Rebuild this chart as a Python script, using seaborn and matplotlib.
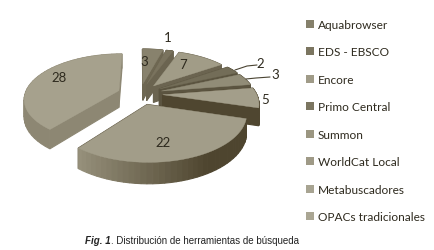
import numpy as np
import matplotlib
matplotlib.use("Agg")
import matplotlib.pyplot as plt
from matplotlib.colors import to_rgb
from matplotlib.patches import Patch
import seaborn as sns

categories = ["Aquabrowser", "EDS - EBSCO", "Encore", "Primo Central", "Summon",
              "WorldCat Local", "Metabuscadores", "OPACs tradicionales"]
values = [3, 1, 7, 2, 3, 5, 22, 28]

# styles
top_hex = ["#88826d", "#7a735e", "#a19c87", "#736d58", "#918c77", "#a39e8a", "#a29d89", "#a6a18d"]
side_left = ["#6e6752", "#6b6450", "#6b6450", "#5b5440", "#5b5440", "#4f4630", "#96907b", "#8d8773"]
side_right = ["#6e6752", "#6b6450", "#6b6450", "#5b5440", "#5b5440", "#4f4630", "#4e452f", "#8d8773"]
legend_hex = ["#85806b", "#7b7560", "#a09b88", "#7b7560", "#9b9681", "#9f9a87", "#a8a492", "#aaa693"]
text_col = "#2e2a1e"
label_pos = [(144, 62), (168, 38), (183, 65), (260, 64), (275, 75), (265, 100), (163, 143), (59, 78)]
leaders = {3: [(235, 71), (247, 67), (257, 66)], 4: [(246, 80), (256, 79), (270, 78)]}
explode = [0.24] * len(values)

sns.set_theme(style="white")
plt.rcParams["font.family"] = ["Lato", "DejaVu Sans"]
palette = sns.color_palette(top_hex)
legend_pal = sns.color_palette(legend_hex)

fig = plt.figure(figsize=(4.34, 2.51), dpi=100, facecolor="white")
ax = fig.add_axes([0, 0, 1, 1])

wedges, _ = ax.pie(values, startangle=90, counterclock=False, explode=explode, colors=palette)
geo = [(w.center, w.theta1, w.theta2, w.r) for w in wedges]
for w in wedges:
    w.set_visible(False)
ax.set_aspect("auto")
ax.set_xlim(0, 434)
ax.set_ylim(251, 0)
ax.axis("off")

CX, CY, RX, RY, K, H = 140, 95, 94, 44, 0.17, 17


def proj(x, y, z=0.0):
    s = 1 / (1 + K * y)
    return CX + RX * x * s, CY - RY * y * s + H * z * s


def project_all(pts, z=0.0):
    return [proj(x, y, z) for x, y in pts]


order = sorted(range(len(values)), key=lambda i: -geo[i][0][1])
for i in order:
    (c0, c1), t1, t2, r = geo[i]
    th = np.radians(np.linspace(t1, t2, 40))
    rim = [(c0 + r * np.cos(a), c1 + r * np.sin(a)) for a in th]
    apex = (c0, c1)
    faces = []
    for end in (rim[0], rim[-1]):
        faces.append(([apex, end], to_rgb(side_right[i])))
    left = to_rgb(side_left[i])
    right = to_rgb(side_right[i])
    for j in range(len(rim) - 1):
        a_mid = 0.5 * (th[j] + th[j + 1])
        f = np.clip((np.cos(a_mid) + 0.6) / 1.1, 0, 1)
        col = tuple(l + (m - l) * f for l, m in zip(left, right))
        faces.append(([rim[j], rim[j + 1]], col))
    faces.sort(key=lambda fc: -np.mean([p[1] for p in fc[0]]))
    for (p, q), col in faces:
        quad = project_all([p, q]) + project_all([q, p], 1.0)
        xs, ys = zip(*quad)
        ax.fill(xs, ys, facecolor=col, edgecolor=col, linewidth=0.8, zorder=2)
    xs, ys = zip(*project_all([apex] + rim))
    ax.fill(xs, ys, facecolor=palette[i], edgecolor=palette[i], linewidth=0.3, zorder=2)

for v, (x, y) in zip(values, label_pos):
    ax.text(x, y, str(v), ha="center", va="center", fontsize=9.5, color=text_col, zorder=5)
for pts in leaders.values():
    xs, ys = zip(*pts)
    ax.plot(xs, ys, color="#4a4432", lw=0.8, zorder=4)

handles = [Patch(facecolor=c, edgecolor="none", label=n) for c, n in zip(legend_pal, categories)]
leg = ax.legend(handles=handles, loc="upper left", bbox_to_anchor=(306 / 434, 1 - 20 / 251),
                bbox_transform=ax.transAxes, frameon=False, fontsize=8.6, labelcolor=text_col,
                handlelength=0.68, handleheight=0.68, handletextpad=0.3, labelspacing=1.38,
                borderpad=0, borderaxespad=0)

t1 = ax.text(85, 241, "Fig. 1", ha="left", va="center", fontsize=7,
             family="Liberation Sans", style="italic", weight="bold", color="#222222")
fig.canvas.draw()
bb = t1.get_window_extent().transformed(ax.transData.inverted())
ax.text(bb.x1, 241, ". Distribución de herramientas de búsqueda", ha="left", va="center", fontsize=7,
        family=["Liberation Sans Narrow", "Liberation Sans"], color="#222222")

fig.savefig("out.png", dpi=100, facecolor="white")
